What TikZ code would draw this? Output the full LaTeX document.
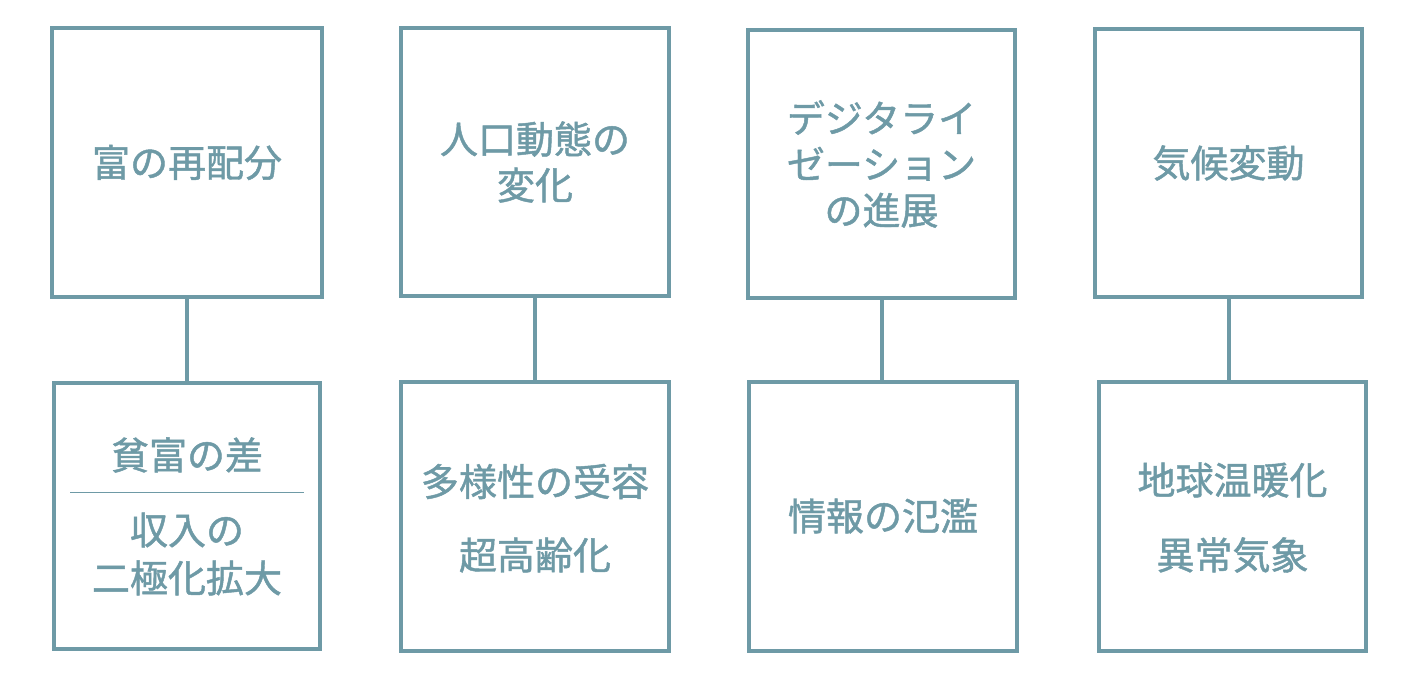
\documentclass[tikz,border=0pt]{standalone}
\usepackage{fontspec}
\newfontfamily\cjk[FakeBold=1.2]{Noto Sans CJK JP}
\definecolor{tealgray}{HTML}{6E9AA6}
\begin{document}
\begin{tikzpicture}[x=1pt,y=-1pt,
  boxstyle/.style={draw=tealgray,line width=4pt,rectangle,inner sep=0pt,fill=white},
  labelstyle/.style={text=tealgray,align=center,inner sep=0pt,font=\cjk\fontsize{38}{46}\selectfont},
  linkstyle/.style={draw=tealgray,line width=4pt}]
\useasboundingbox[fill=white] (0,0) rectangle (1411,676);
% top boxes
\node[boxstyle,minimum width=270pt,minimum height=269pt] (t1) at (187,162.5) {};
\node[boxstyle,minimum width=268pt,minimum height=268pt] (t2) at (535,162) {};
\node[boxstyle,minimum width=267pt,minimum height=268pt] (t3) at (881.5,164) {};
\node[boxstyle,minimum width=267pt,minimum height=268pt] (t4) at (1228.5,163) {};
% bottom boxes
\node[boxstyle,minimum width=266pt,minimum height=266pt] (b1) at (187,516) {};
\node[boxstyle,minimum width=268pt,minimum height=269pt] (b2) at (535,516.5) {};
\node[boxstyle,minimum width=268pt,minimum height=269pt] (b3) at (883,516.5) {};
\node[boxstyle,minimum width=267pt,minimum height=269pt] (b4) at (1232.5,516.5) {};
% connectors
\draw[linkstyle] (t1.south) -- (t1.south |- b1.north);
\draw[linkstyle] (t2.south) -- (t2.south |- b2.north);
\draw[linkstyle] (t3.south) -- (t3.south |- b3.north);
\draw[linkstyle] (t4.south) -- (t4.south |- b4.north);
% top labels
\node[labelstyle] (l1) at (t1.center) {富の再配分};
\node[labelstyle] (l2) at (t2.center) {人口動態の\\変化};
\node[labelstyle] (l3) at (t3.center) {デジタライ\\ゼーション\\の進展};
\node[labelstyle] (l4) at (t4.center) {気候変動};
% bottom labels
\node[labelstyle] (m1a) at (187,455) {貧富の差};
\coordinate (d1l) at (70,492);
\coordinate (d1r) at (304,492);
\draw[draw=tealgray,line width=1pt] (d1l) -- (d1r);
\node[labelstyle,font=\cjk\fontsize{38}{48}\selectfont] (m1b) at (187,554) {収入の\\二極化拡大};
\node[labelstyle] (m2a) at (535,481.5) {多様性の受容};
\node[labelstyle] (m2b) at (535,555) {超高齢化};
\node[labelstyle] (m3a) at (883,516) {情報の氾濫};
\node[labelstyle] (m4a) at (1232.5,480) {地球温暖化};
\node[labelstyle] (m4b) at (1232.5,555) {異常気象};
\end{tikzpicture}
\end{document}
